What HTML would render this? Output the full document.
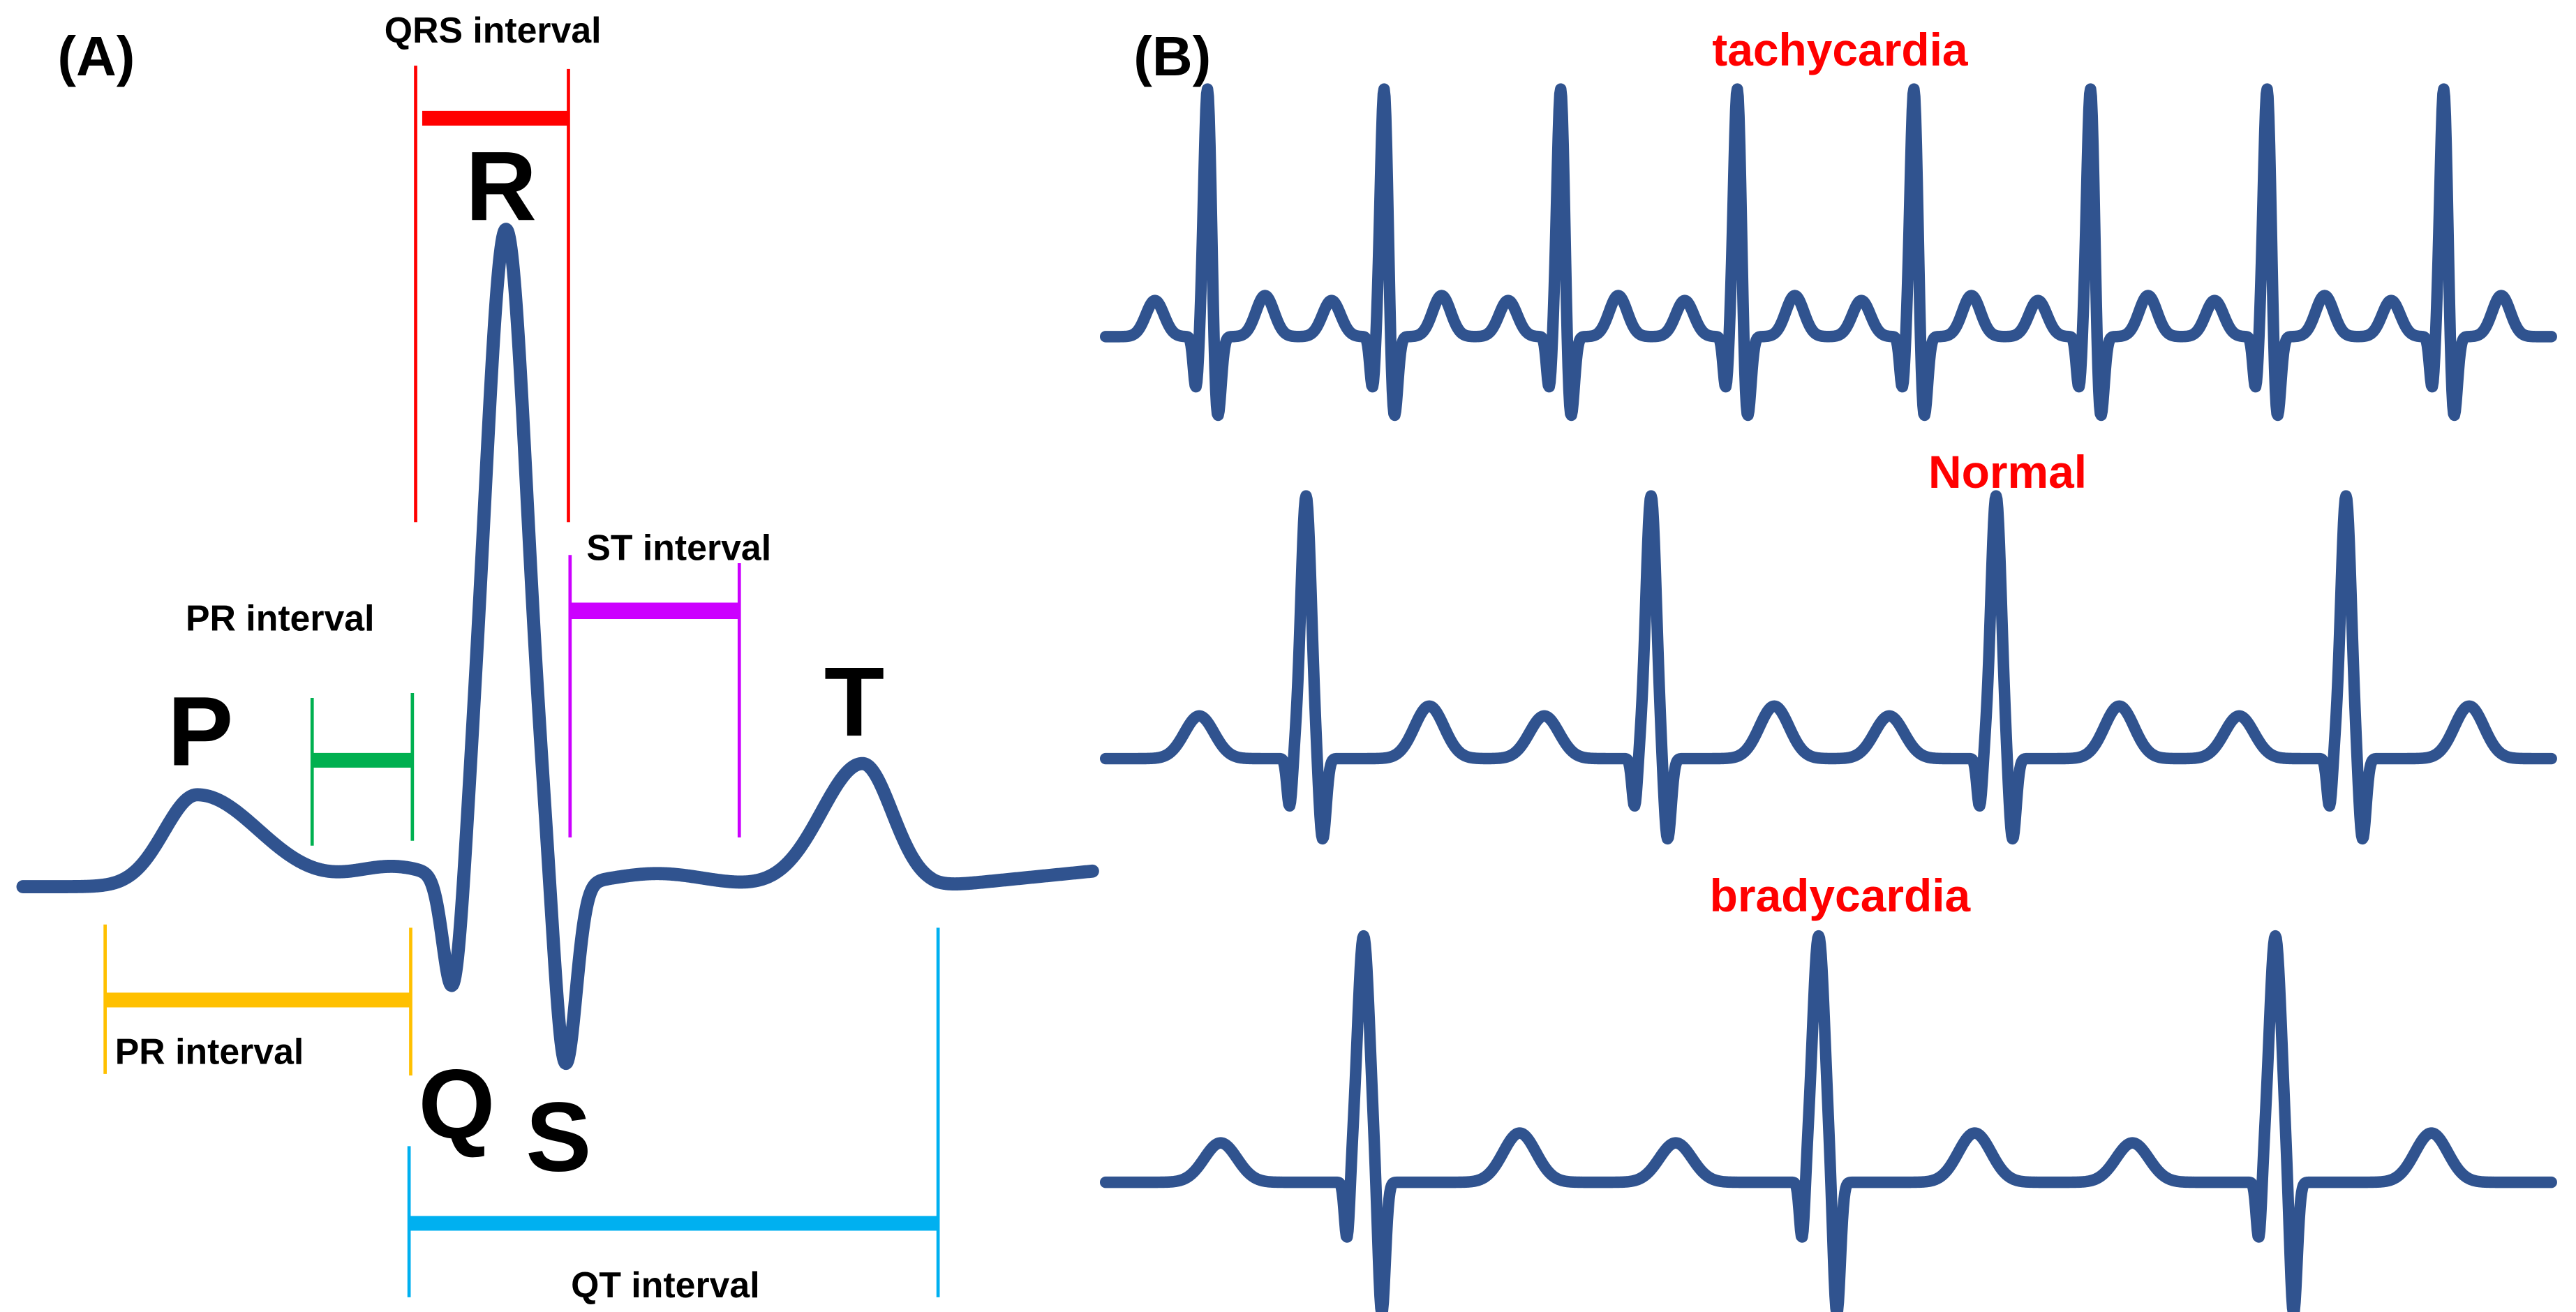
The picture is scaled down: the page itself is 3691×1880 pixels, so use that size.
<!DOCTYPE html>
<html><head><meta charset="utf-8"><style>
html,body{margin:0;padding:0;background:#fff;}
svg{display:block;}
text{font-family:"Liberation Sans",sans-serif;font-weight:bold;}
</style></head><body>
<svg id="s" width="3691" height="1880" viewBox="0 0 1568 799" preserveAspectRatio="none" xmlns="http://www.w3.org/2000/svg">
<rect width="1568" height="799" fill="#fff"/>
<text x="35" y="46" font-size="34">(A)</text>
<text x="300" y="26" font-size="22" text-anchor="middle">QRS interval</text>
<line x1="253" y1="40" x2="253" y2="318" stroke="#f00" stroke-width="2"/>
<line x1="346" y1="42" x2="346" y2="318" stroke="#f00" stroke-width="2"/>
<line x1="257" y1="72" x2="346" y2="72" stroke="#f00" stroke-width="9"/>
<text x="305" y="134" font-size="60" text-anchor="middle">R</text>
<text x="357" y="341" font-size="22">ST interval</text>
<line x1="347" y1="338" x2="347" y2="510" stroke="#c0f" stroke-width="2"/>
<line x1="450" y1="343" x2="450" y2="510" stroke="#c0f" stroke-width="2"/>
<line x1="347" y1="372" x2="450" y2="372" stroke="#c0f" stroke-width="10"/>
<text x="113" y="384" font-size="22">PR interval</text>
<line x1="190" y1="425" x2="190" y2="515" stroke="#00b050" stroke-width="2"/>
<line x1="251" y1="422" x2="251" y2="512" stroke="#00b050" stroke-width="2"/>
<line x1="190" y1="463" x2="250" y2="463" stroke="#00b050" stroke-width="9"/>
<text x="122" y="466" font-size="60" text-anchor="middle">P</text>
<text x="520" y="448" font-size="60" text-anchor="middle">T</text>
<line x1="64" y1="563" x2="64" y2="654" stroke="#ffc000" stroke-width="2"/>
<line x1="250" y1="565" x2="250" y2="655" stroke="#ffc000" stroke-width="2"/>
<line x1="64" y1="609" x2="250" y2="609" stroke="#ffc000" stroke-width="9"/>
<text x="70" y="648" font-size="22">PR interval</text>
<text x="278" y="693" font-size="60" text-anchor="middle">Q</text>
<text x="340" y="713" font-size="60" text-anchor="middle">S</text>
<line x1="249" y1="698" x2="249" y2="790" stroke="#00b0f0" stroke-width="2"/>
<line x1="571" y1="565" x2="571" y2="790" stroke="#00b0f0" stroke-width="2"/>
<line x1="249" y1="745" x2="571" y2="745" stroke="#00b0f0" stroke-width="9"/>
<text x="405" y="790" font-size="22" text-anchor="middle">QT interval</text>
<text x="690" y="46" font-size="34">(B)</text>
<text x="1120" y="40" font-size="28" fill="#f00" text-anchor="middle">tachycardia</text>
<text x="1222" y="297" font-size="28" fill="#f00" text-anchor="middle">Normal</text>
<text x="1120" y="555" font-size="28" fill="#f00" text-anchor="middle">bradycardia</text>
<g id="waves" fill="none" stroke="#30538F" stroke-linejoin="round" stroke-linecap="round"></g>
</svg>
<script>
(function(){
  var g=document.getElementById('waves');
  function G(x,c,a,s){return a*Math.exp(-(x-c)*(x-c)/(2*s*s));}
  function AG(x,c,a,sl,sr){var s=x<c?sl:sr;return a*Math.exp(-(x-c)*(x-c)/(2*s*s));}
  function mk(x0,x1,fn,w){
    var d='';for(var x=x0;x<=x1;x+=0.5){d+=(x==x0?'M':'L')+x.toFixed(1)+' '+fn(x).toFixed(2)+' ';}
    var p=document.createElementNS('http://www.w3.org/2000/svg','path');
    p.setAttribute('d',d);p.setAttribute('stroke-width',w);g.appendChild(p);
  }
  mk(14,665,function(x){
    var b=540-(x>570?(x-570)*0.1:0);
    var y=b;
    y-=AG(x,120,56,20,38);
    y-=G(x,240,12,25);
    y+=G(x,276,78,6);
    y-=G(x,308,400,12.5);
    y+=G(x,344,115,6.5);
    y-=G(x,400,8,30);
    y-=AG(x,525,75,25,18);
    return y;
  },8);
  function strip(b,cs,R,Rs,Qa,Qo,Sa,So,Pa,Po,Ps,Ta,To,Ts,w){
    mk(673,1553,function(x){
      var y=b;
      for(var i=0;i<cs.length;i++){var c=cs[i];
        y-=G(x,c,R,Rs);y+=G(x,c+Qo,Qa,1.6);y+=G(x,c+So,Sa,2.2);
        y-=G(x,c+Po,Pa,Ps);y-=G(x,c+To,Ta,Ts);
      }
      return y;
    },w);
  }
  var t=[];for(var i=0;i<8;i++)t.push(735+i*107.5);
  strip(205,t,152,2.3,32,-7,52,6,22,-32,5.5,25,35,5.5,7);
  strip(462,[795,1005,1215,1428],160,3.2,30,-10,50,10,26,-65,9,32,75,9,7);
  strip(720,[830,1107,1385],150,3.8,38,-10,82,11,24,-87,10,30,95,10,7);
})();
</script>
</body></html>
